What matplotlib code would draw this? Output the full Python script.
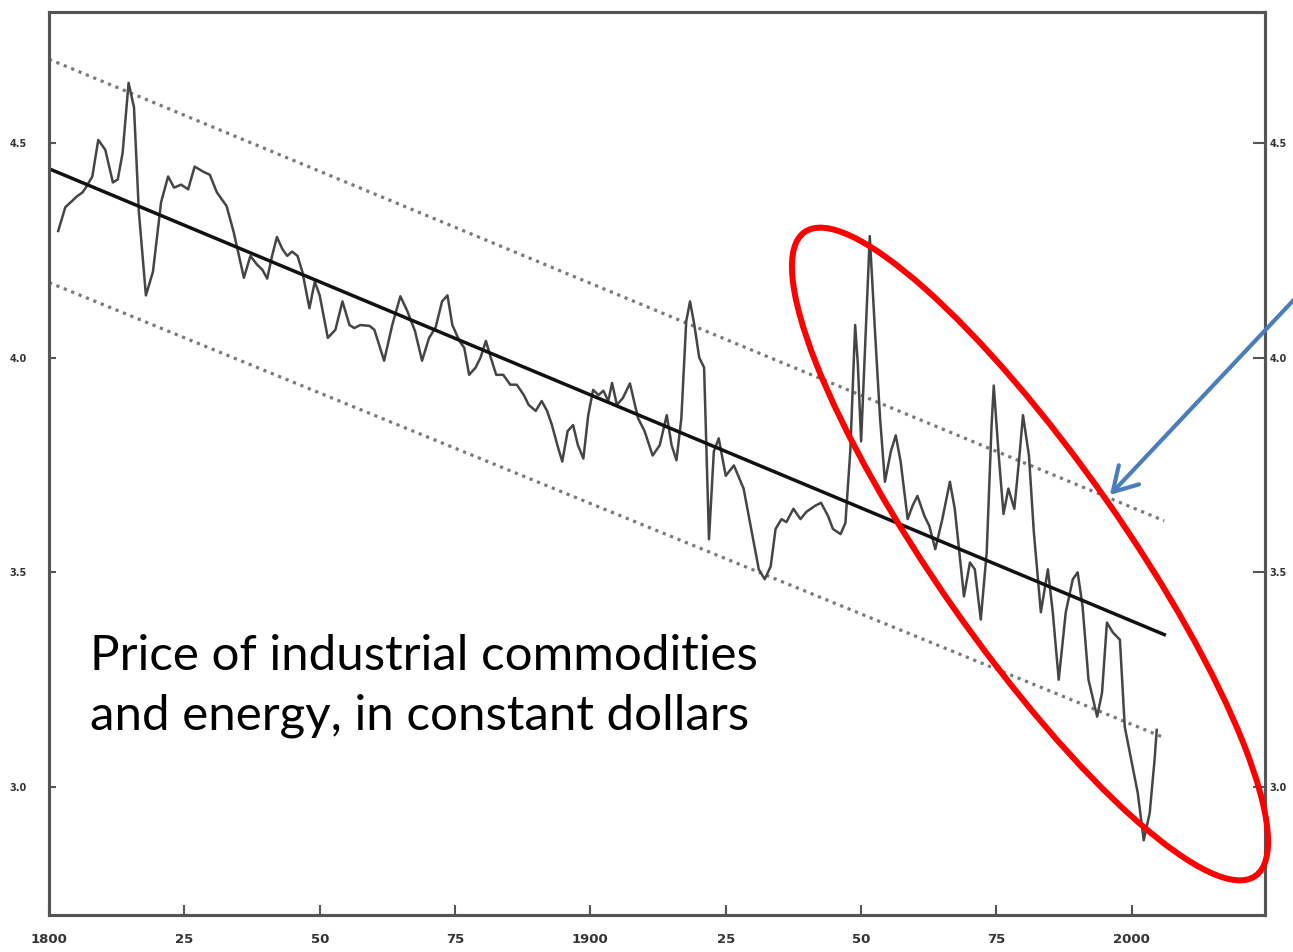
import matplotlib.pyplot as plt
from matplotlib.patches import Ellipse, FancyArrowPatch

# log price index
years = [1801.7, 1803.0, 1805.2, 1806.2, 1806.8, 1808.0, 1809.1, 1810.4, 1811.8, 1812.7,
         1813.6, 1814.7, 1815.7, 1816.6, 1817.9, 1819.2, 1820.7, 1822.0, 1823.1, 1824.4,
         1825.7, 1826.9, 1828.5, 1829.7, 1831.0, 1832.8, 1834.1, 1836.0, 1837.2, 1838.4,
         1839.4, 1840.3, 1841.2, 1842.1, 1843.1, 1844.0, 1844.9, 1845.9, 1846.8, 1848.1,
         1849.1, 1850.0, 1851.5, 1852.9, 1854.2, 1855.5, 1856.4, 1857.5, 1859.2, 1860.1,
         1861.9, 1863.4, 1864.9, 1866.2, 1867.6, 1868.9, 1870.2, 1871.4, 1872.6, 1873.6,
         1874.5, 1875.8, 1876.7, 1877.6, 1878.8, 1879.7, 1880.7, 1881.6, 1882.6, 1883.9,
         1885.2, 1886.4, 1887.7, 1888.6, 1889.9, 1891.0, 1892.0, 1892.9, 1893.9, 1894.8,
         1895.8, 1896.8, 1897.7, 1898.7, 1899.6, 1900.5, 1901.5, 1902.4, 1903.3, 1904.0,
         1904.9, 1906.0, 1907.3, 1908.8, 1910.0, 1911.5, 1912.8, 1914.1, 1915.0, 1915.9,
         1916.8, 1917.7, 1918.4, 1919.2, 1920.1, 1921.0, 1921.9, 1922.8, 1923.7, 1925.0,
         1926.5, 1928.3, 1929.8, 1931.1, 1932.2, 1933.3, 1934.2, 1935.3, 1936.2, 1937.5,
         1938.8, 1939.9, 1941.5, 1942.6, 1943.9, 1944.8, 1946.2, 1947.1, 1948.0, 1948.9,
         1949.4, 1950.0, 1950.7, 1951.6, 1952.6, 1953.5, 1954.4, 1955.5, 1956.4, 1957.3,
         1958.6, 1959.5, 1960.4, 1961.7, 1962.6, 1963.7, 1965.0, 1966.4, 1967.3, 1969.0,
         1970.1, 1971.0, 1972.1, 1973.2, 1974.1, 1974.5, 1975.4, 1976.3, 1977.2, 1978.3,
         1979.2, 1979.9, 1981.0, 1981.9, 1983.2, 1984.5, 1985.4, 1986.5, 1987.8, 1989.1,
         1990.0, 1990.9, 1992.0, 1993.6, 1994.5, 1995.4, 1996.5, 1997.8, 1998.7, 2000.0,
         2001.1, 2002.2, 2003.3, 2004.2, 2004.6]
price = [4.295, 4.350, 4.376, 4.385, 4.396, 4.422, 4.507, 4.484, 4.408, 4.415,
         4.477, 4.640, 4.583, 4.339, 4.145, 4.200, 4.362, 4.422, 4.396, 4.403,
         4.392, 4.445, 4.433, 4.426, 4.385, 4.353, 4.293, 4.186, 4.237, 4.217,
         4.205, 4.184, 4.237, 4.281, 4.253, 4.237, 4.247, 4.237, 4.200, 4.115,
         4.177, 4.145, 4.046, 4.065, 4.131, 4.076, 4.069, 4.076, 4.074, 4.065,
         3.993, 4.076, 4.143, 4.108, 4.062, 3.993, 4.046, 4.070, 4.131, 4.145,
         4.076, 4.039, 4.023, 3.960, 3.977, 4.000, 4.039, 4.000, 3.960, 3.960,
         3.937, 3.937, 3.913, 3.890, 3.876, 3.899, 3.876, 3.843, 3.796, 3.758,
         3.829, 3.843, 3.796, 3.765, 3.866, 3.925, 3.913, 3.923, 3.899, 3.941,
         3.890, 3.906, 3.940, 3.859, 3.829, 3.772, 3.796, 3.866, 3.796, 3.761,
         3.859, 4.085, 4.131, 4.076, 4.000, 3.977, 3.577, 3.782, 3.812, 3.725,
         3.749, 3.695, 3.594, 3.507, 3.484, 3.514, 3.601, 3.624, 3.617, 3.648,
         3.624, 3.641, 3.655, 3.662, 3.631, 3.601, 3.589, 3.615, 3.782, 4.076,
         3.984, 3.805, 4.016, 4.283, 4.053, 3.859, 3.711, 3.782, 3.819, 3.758,
         3.624, 3.655, 3.678, 3.631, 3.608, 3.554, 3.624, 3.711, 3.648, 3.444,
         3.523, 3.507, 3.390, 3.547, 3.843, 3.935, 3.775, 3.636, 3.695, 3.648,
         3.765, 3.866, 3.772, 3.594, 3.407, 3.507, 3.407, 3.250, 3.407, 3.484,
         3.500, 3.421, 3.250, 3.164, 3.220, 3.383, 3.360, 3.343, 3.140, 3.056,
         2.986, 2.876, 2.939, 3.063, 3.133]

# log-linear trend and its band
fit_years = [1800, 2006]
trend = [4.440, 3.355]
upper = [4.695, 3.620]
lower = [4.175, 3.115]

xticks = [1800, 1825, 1850, 1875, 1900, 1925, 1950, 1975, 2000]
xlabels = ['1800', '25', '50', '75', '1900', '25', '50', '75', '2000']
yticks = [3.0, 3.5, 4.0, 4.5]
ylabels = ['3.0', '3.5', '4.0', '4.5']

W, H = 1293, 952
fig = plt.figure(figsize=(W / 100, H / 100), dpi=100)
ax = fig.add_axes([49 / W, 1 - 915 / H, (1265 - 49) / W, (915 - 12) / H])

ax.plot(years, price, color='#454545', lw=1.8, zorder=3)
ax.plot(fit_years, trend, color='#111111', lw=2.5, zorder=4)
for band in (upper, lower):
    ax.plot(fit_years, band, color='#7a7a7a', lw=2.3, ls=(0, (1, 1.5)), zorder=2)

ax.set_xlim(1800, 2024.6)
ax.set_ylim(2.702, 4.805)
ax.set_xticks(xticks, xlabels)
ax.set_yticks(yticks, ylabels)
ax.tick_params(axis='x', direction='in', length=7, width=1.5, color='#555555',
               labelsize=9.5, pad=13)
ax.tick_params(axis='y', direction='in', length=5, width=1.5, color='#555555',
               labelsize=7, pad=16)

# same scale repeated on the right edge
ax2 = ax.twinx()
ax2.set_ylim(ax.get_ylim())
ax2.set_yticks(yticks, ylabels)
ax2.tick_params(axis='y', direction='in', length=9, width=1.5, color='#555555',
                labelsize=7, pad=3)
for a in (ax, ax2):
    for s in a.spines.values():
        s.set_color('#555555')
        s.set_linewidth(2.2)
for lab in ax.get_xticklabels() + ax.get_yticklabels() + ax2.get_yticklabels():
    lab.set_fontweight('bold')
    lab.set_color('#333333')

# annotation layer in pixel coordinates
ov = fig.add_axes([0, 0, 1, 1])
ov.axis('off')
ov.set_xlim(0, W)
ov.set_ylim(H, 0)
ov.add_patch(Ellipse((1030, 554), 786, 187, angle=55, fill=False, ec='#ff0000', lw=4.3))
ov.add_patch(FancyArrowPatch((1305, 288), (1108, 497),
             arrowstyle='->,head_length=0.85,head_width=0.5', mutation_scale=20,
             color='#4a7ebb', lw=3.0))
ov.text(90, 634, 'Price of industrial commodities\nand energy, in constant dollars',
        fontsize=35.5, family='Lato', va='top', ha='left', linespacing=1.44, color='black')

fig.savefig('out.png', dpi=100)
